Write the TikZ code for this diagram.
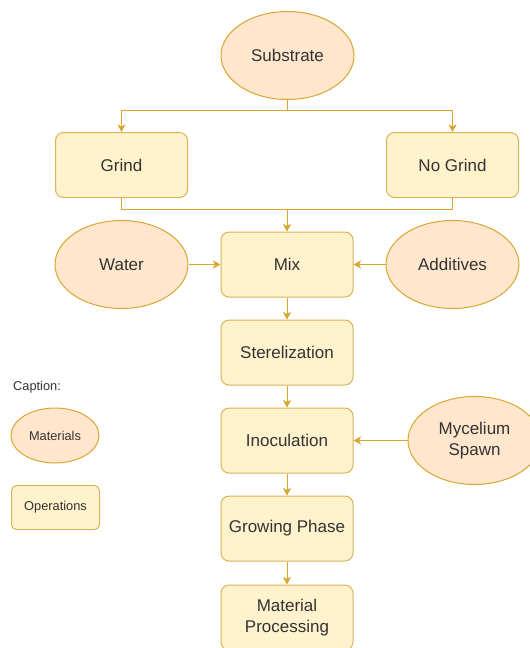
\documentclass[tikz,border=0pt]{standalone}
\usepackage{fontspec}
\setmainfont{Liberation Sans}
\usetikzlibrary{shapes.geometric,arrows.meta}
\definecolor{opfill}{HTML}{FFF2CC}
\definecolor{opline}{HTML}{D6B656}
\definecolor{matfill}{HTML}{FFE6CC}
\definecolor{matline}{HTML}{D9A634}
\definecolor{edgecol}{HTML}{D9A52A}
\definecolor{txt}{HTML}{333333}
\tikzset{
  opbox/.style={draw=opline, fill=opfill, line width=1pt, rounded corners=8pt,
    minimum width=132pt, minimum height=65pt, inner sep=0pt, text=txt, align=center,
    font=\fontsize{17}{20.5}\selectfont},
  matell/.style={ellipse, draw=matline, fill=matfill, line width=1pt,
    minimum width=133pt, minimum height=88pt, inner sep=0pt, text=txt, align=center,
    font=\fontsize{17}{20.5}\selectfont},
  conn/.style={draw=edgecol, line width=1pt},
  arr/.style={conn, -{Stealth[length=7.5pt,width=8pt,inset=2pt]}},
}
\begin{document}
\begin{tikzpicture}[x=1pt,y=-1pt]
\useasboundingbox (0,0) rectangle (530,648);
\clip (0,0) rectangle (530,648);
\node[matell] (sub) at (287.5,55.5) {Substrate};
\node[opbox] (grind) at (121.5,165) {Grind};
\node[opbox] (nogrind) at (452.5,165) {No Grind};
\node[matell] (water) at (121.5,264.5) {Water};
\node[opbox] (mix) at (287,264.5) {Mix};
\node[matell] (add) at (452.5,264.5) {Additives};
\node[opbox] (ster) at (287,352.5) {Sterelization};
\node[opbox] (inoc) at (287,440.5) {Inoculation};
\node[matell] (myc) at (474.5,440.5) {Mycelium\\Spawn};
\node[opbox] (grow) at (287,528.5) {Growing Phase};
\node[opbox] (mat) at (287,617.5) {Material\\Processing};
% caption
\node[anchor=west, text=txt, inner sep=0pt, font=\fontsize{12.8}{15}\selectfont] (cap) at (13,387.5) {Caption:};
\node[matell, minimum width=88pt, minimum height=55pt, font=\fontsize{12.8}{15}\selectfont] (lmat) at (55,435.5) {Materials};
\node[opbox, minimum width=88pt, minimum height=44pt, rounded corners=5pt, font=\fontsize{12.8}{15}\selectfont] (lop) at (55.5,507.5) {Operations};
% connectors
\coordinate (j1) at (287.5,110);
\coordinate (j2) at (287,209);
\draw[conn] (sub.south) -- (j1);
\draw[arr] (j1) -| (grind.north);
\draw[arr] (j1) -| (nogrind.north);
\draw[conn] (grind.south) |- (j2);
\draw[conn] (nogrind.south) |- (j2);
\draw[arr] (j2) -- (mix.north);
\draw[arr] (water.east) -- (mix.west);
\draw[arr] (add.west) -- (mix.east);
\draw[arr] (mix.south) -- (ster.north);
\draw[arr] (ster.south) -- (inoc.north);
\draw[arr] (myc.west) -- (inoc.east);
\draw[arr] (inoc.south) -- (grow.north);
\draw[arr] (grow.south) -- (mat.north);
\end{tikzpicture}
\end{document}
